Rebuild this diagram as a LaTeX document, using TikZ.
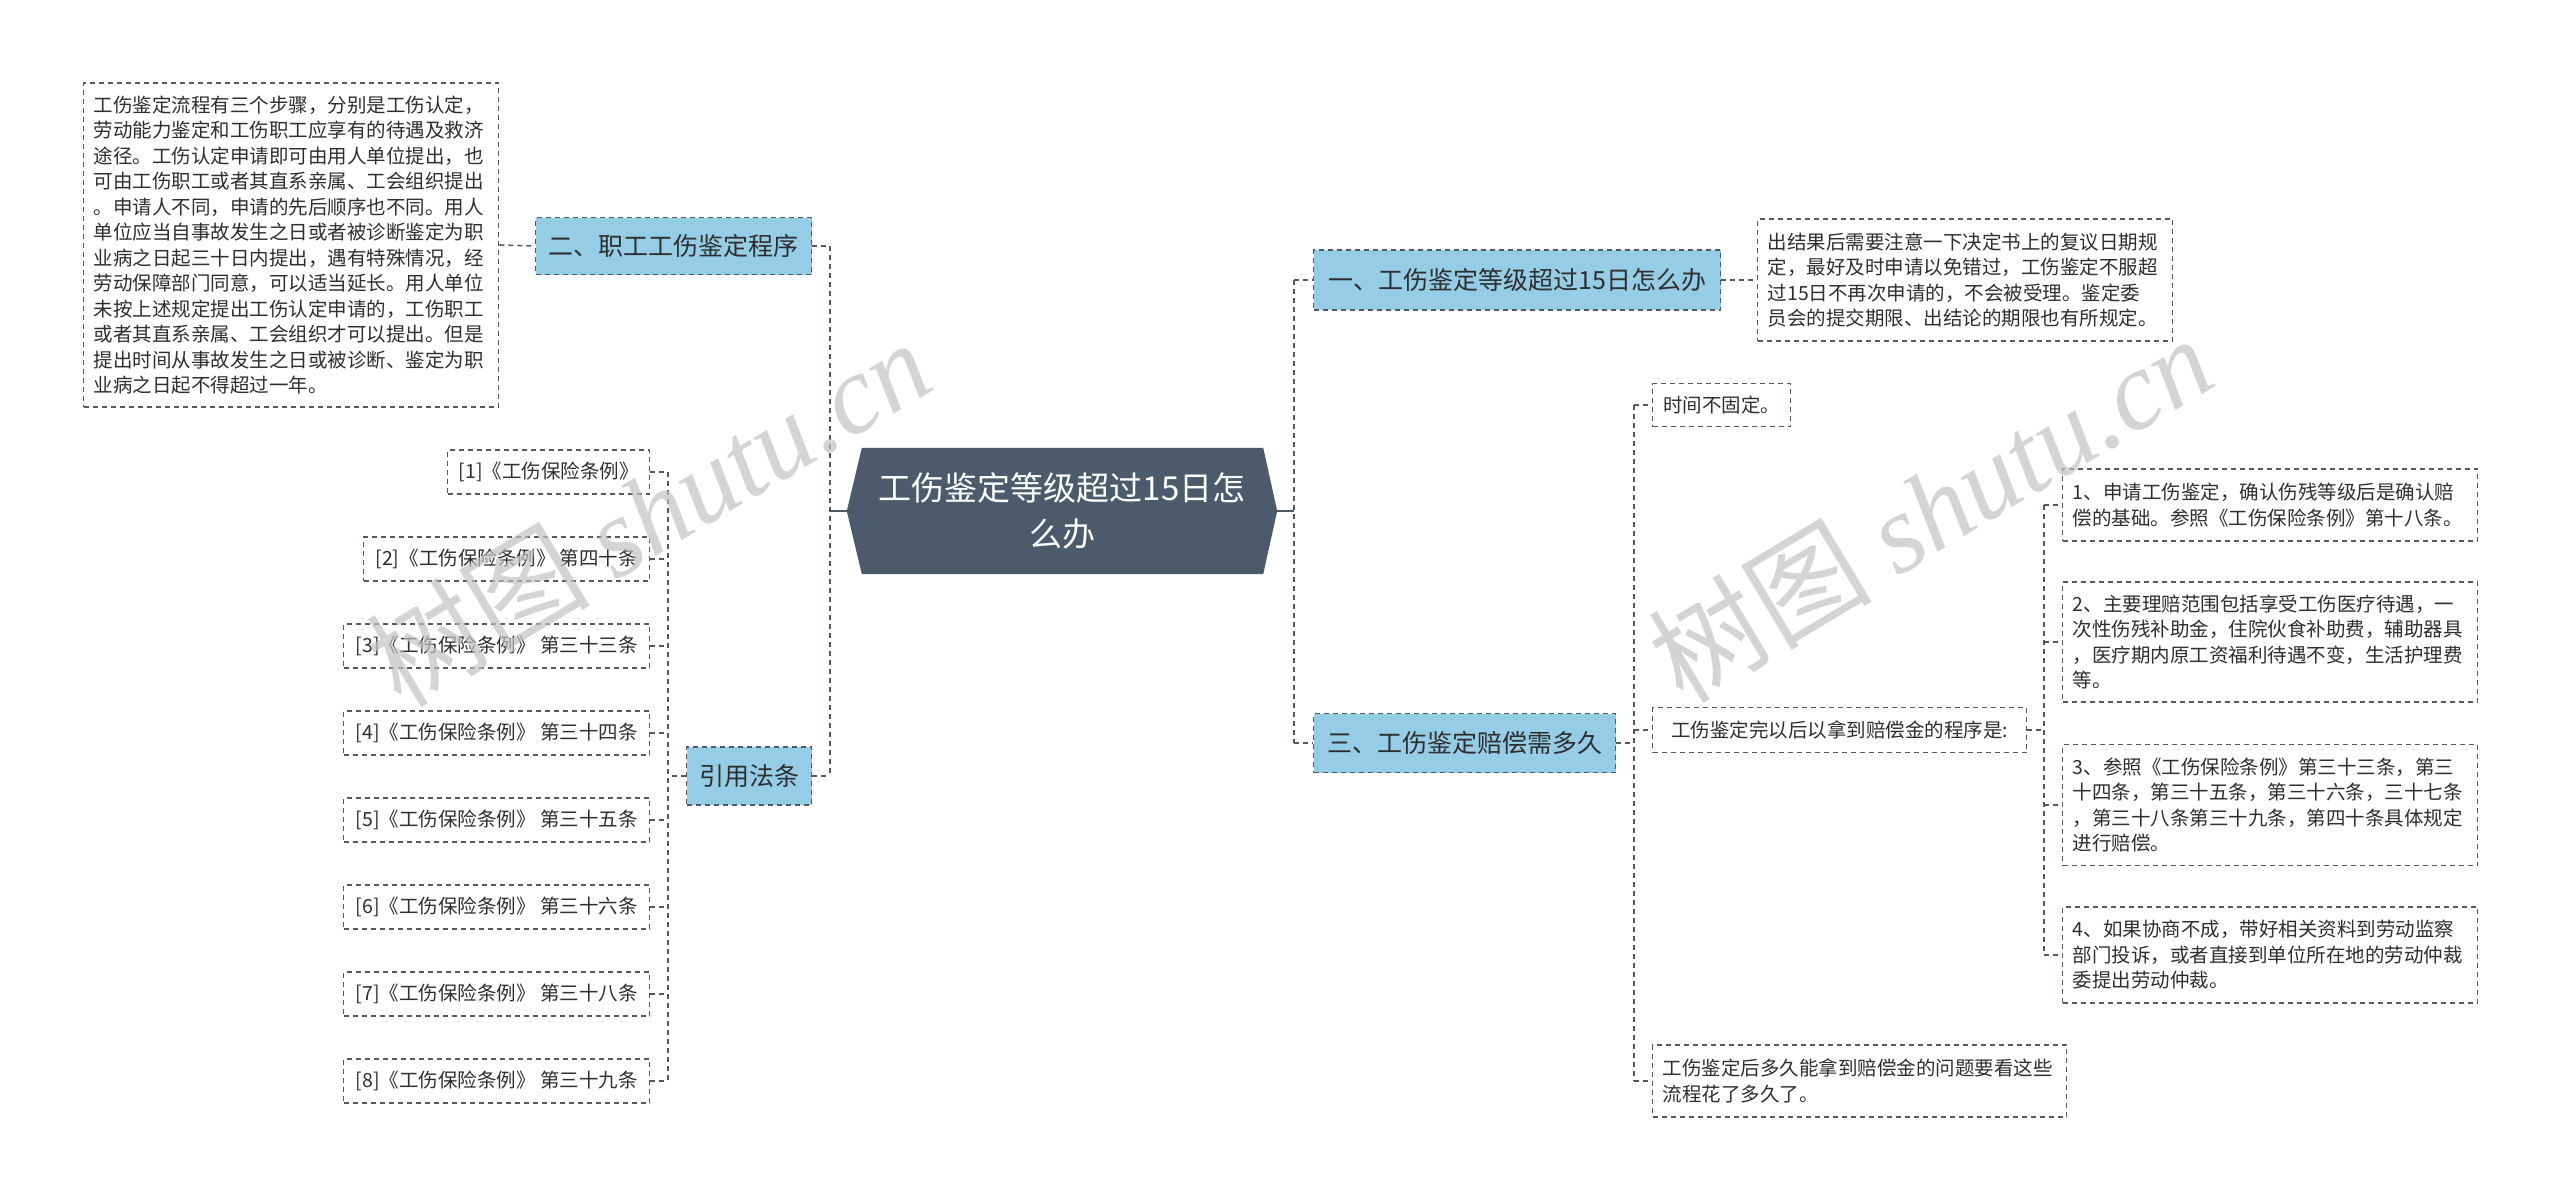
\documentclass[tikz,border=0pt]{standalone}
\usepackage{fontspec}
\setmainfont{Noto Sans CJK SC}
\newfontfamily\wmserif{Liberation Serif}
\usetikzlibrary{calc}
\definecolor{darkhex}{HTML}{4B5B6B}
\definecolor{nodeblue}{HTML}{96CDE6}
\definecolor{linec}{HTML}{505A64}
\definecolor{txt}{HTML}{2E2E2E}
\tikzset{
  box/.style={draw=linec, line width=1.4pt, dash pattern=on 5pt off 4pt, fill=white,
    inner sep=0pt, text=txt, font=\fontsize{19.5}{25.5}\selectfont, anchor=west},
  mbox/.style={box, align=left},
  topic/.style={draw=linec, line width=1.4pt, dash pattern=on 5pt off 4pt, fill=nodeblue,
    inner sep=0pt, text=txt, font=\fontsize{25}{30}\selectfont, anchor=west},
  conn/.style={draw=linec, line width=1.6pt, dash pattern=on 5pt off 4pt},
  solidconn/.style={draw=linec, line width=2pt},
  wm/.style={text=black!24, opacity=0.7, rotate=31, font=\fontsize{112}{112}\selectfont},
}
\begin{document}
\begin{tikzpicture}[x=1pt,y=-1pt]
\useasboundingbox (0,0) rectangle (2560,1200);
\fill[white] (0,0) rectangle (2560,1200);

% central topic
\node[minimum width=430pt, minimum height=126pt, inner sep=0pt] (center) at (1062,511) {};
\fill[darkhex] (center.west) -- ([xshift=15pt]center.north west) -- ([xshift=-14pt]center.north east)
  -- (center.east) -- ([xshift=-14pt]center.south east) -- ([xshift=15pt]center.south west) -- cycle;
\node[text=white, align=center, font=\fontsize{33}{46}\selectfont] (centertext) at (center) {工伤鉴定等级超过15日怎\\么办};

% left side
\node[mbox, minimum width=415pt, minimum height=324pt, text width=395pt] (big) at (83,245)
{工伤鉴定流程有三个步骤，分别是工伤认定，\\
劳动能力鉴定和工伤职工应享有的待遇及救济\\
途径。工伤认定申请即可由用人单位提出，也\\
可由工伤职工或者其直系亲属、工会组织提出\\
。申请人不同，申请的先后顺序也不同。用人\\
单位应当自事故发生之日或者被诊断鉴定为职\\
业病之日起三十日内提出，遇有特殊情况，经\\
劳动保障部门同意，可以适当延长。用人单位\\
未按上述规定提出工伤认定申请的，工伤职工\\
或者其直系亲属、工会组织才可以提出。但是\\
提出时间从事故发生之日或被诊断、鉴定为职\\
业病之日起不得超过一年。};
\node[topic, minimum width=276pt, minimum height=57pt] (n2) at (535,246) {二、职工工伤鉴定程序};
\node[topic, minimum width=125pt, minimum height=58pt] (yin) at (686,776) {引用法条};

\node[box, minimum width=202pt, minimum height=44pt] (r1) at (447,472) {[1]《工伤保险条例》};
\node[box, minimum width=286pt, minimum height=44pt] (r2) at (363,559) {[2]《工伤保险条例》 第四十条};
\node[box, minimum width=306pt, minimum height=44pt] (r3) at (343,646) {[3]《工伤保险条例》 第三十三条};
\node[box, minimum width=306pt, minimum height=44pt] (r4) at (343,733) {[4]《工伤保险条例》 第三十四条};
\node[box, minimum width=306pt, minimum height=44pt] (r5) at (343,820) {[5]《工伤保险条例》 第三十五条};
\node[box, minimum width=306pt, minimum height=44pt] (r6) at (343,907) {[6]《工伤保险条例》 第三十六条};
\node[box, minimum width=306pt, minimum height=44pt] (r7) at (343,994) {[7]《工伤保险条例》 第三十八条};
\node[box, minimum width=306pt, minimum height=44pt] (r8) at (343,1081) {[8]《工伤保险条例》 第三十九条};

% right side
\node[topic, minimum width=407pt, minimum height=60pt] (n1) at (1313,280) {一、工伤鉴定等级超过15日怎么办};
\node[mbox, minimum width=415pt, minimum height=122pt, text width=395pt] (t1) at (1757,280)
{出结果后需要注意一下决定书上的复议日期规\\
定，最好及时申请以免错过，工伤鉴定不服超\\
过15日不再次申请的，不会被受理。鉴定委\\
员会的提交期限、出结论的期限也有所规定。};
\node[topic, minimum width=302pt, minimum height=59pt] (n3) at (1313,743) {三、工伤鉴定赔偿需多久};

\node[box, minimum width=138pt, minimum height=43pt] (s1) at (1652,405) {时间不固定。};
\node[box, minimum width=374pt, minimum height=45pt] (s2) at (1652,730) {工伤鉴定完以后以拿到赔偿金的程序是:};
\node[mbox, minimum width=414pt, minimum height=72pt, text width=394pt] (s3) at (1652,1081)
{工伤鉴定后多久能拿到赔偿金的问题要看这些\\
流程花了多久了。};

\node[mbox, minimum width=415pt, minimum height=72pt, text width=395pt] (i1) at (2062,505)
{1、申请工伤鉴定，确认伤残等级后是确认赔\\
偿的基础。参照《工伤保险条例》第十八条。};
\node[mbox, minimum width=415pt, minimum height=120pt, text width=395pt] (i2) at (2062,642)
{2、主要理赔范围包括享受工伤医疗待遇，一\\
次性伤残补助金，住院伙食补助费，辅助器具\\
，医疗期内原工资福利待遇不变，生活护理费\\
等。};
\node[mbox, minimum width=415pt, minimum height=121pt, text width=395pt] (i3) at (2062,805)
{3、参照《工伤保险条例》第三十三条，第三\\
十四条，第三十五条，第三十六条，三十七条\\
，第三十八条第三十九条，第四十条具体规定\\
进行赔偿。};
\node[mbox, minimum width=415pt, minimum height=96pt, text width=395pt] (i4) at (2062,955)
{4、如果协商不成，带好相关资料到劳动监察\\
部门投诉，或者直接到单位所在地的劳动仲裁\\
委提出劳动仲裁。};

% bus coordinates
\coordinate (LB) at (830,0);
\coordinate (LC) at (668,0);
\coordinate (RB) at (1294,0);
\coordinate (RC) at (1634,0);
\coordinate (RD) at (2044,0);

% left connectors
\draw[solidconn] (center.west) -- (center.west -| LB);
\draw[conn] (n2.east -| LB) -- (yin.east -| LB);
\draw[conn] (n2.east) -- (n2.east -| LB);
\draw[conn] (yin.east) -- (yin.east -| LB);
\draw[conn] (big.east) -- (n2.west);
\draw[conn] (r1.east -| LC) -- (r8.east -| LC);
\foreach \k in {1,...,8} { \draw[conn] (r\k.east) -- (r\k.east -| LC); }
\draw[conn] (yin.west) -- (yin.west -| LC);

% right connectors
\draw[solidconn] (center.east) -- (center.east -| RB);
\draw[conn] (n1.west -| RB) -- (n3.west -| RB);
\draw[conn] (n1.west -| RB) -- (n1.west);
\draw[conn] (n3.west -| RB) -- (n3.west);
\draw[conn] (n1.east) -- (t1.west);
\draw[conn] (n3.east) -- (n3.east -| RC);
\draw[conn] (s1.west -| RC) -- (s3.west -| RC);
\foreach \k in {1,2,3} { \draw[conn] (s\k.west -| RC) -- (s\k.west); }
\draw[conn] (s2.east) -- (s2.east -| RD);
\draw[conn] (i1.west -| RD) -- (i4.west -| RD);
\foreach \k in {1,...,4} { \draw[conn] (i\k.west -| RD) -- (i\k.west); }

% watermarks
\node[wm] (wm1) at (648,512) {树图 {\wmserif\itshape shutu.cn}};
\node[wm] (wm2) at (1930,508) {树图 {\wmserif\itshape shutu.cn}};
\end{tikzpicture}
\end{document}
